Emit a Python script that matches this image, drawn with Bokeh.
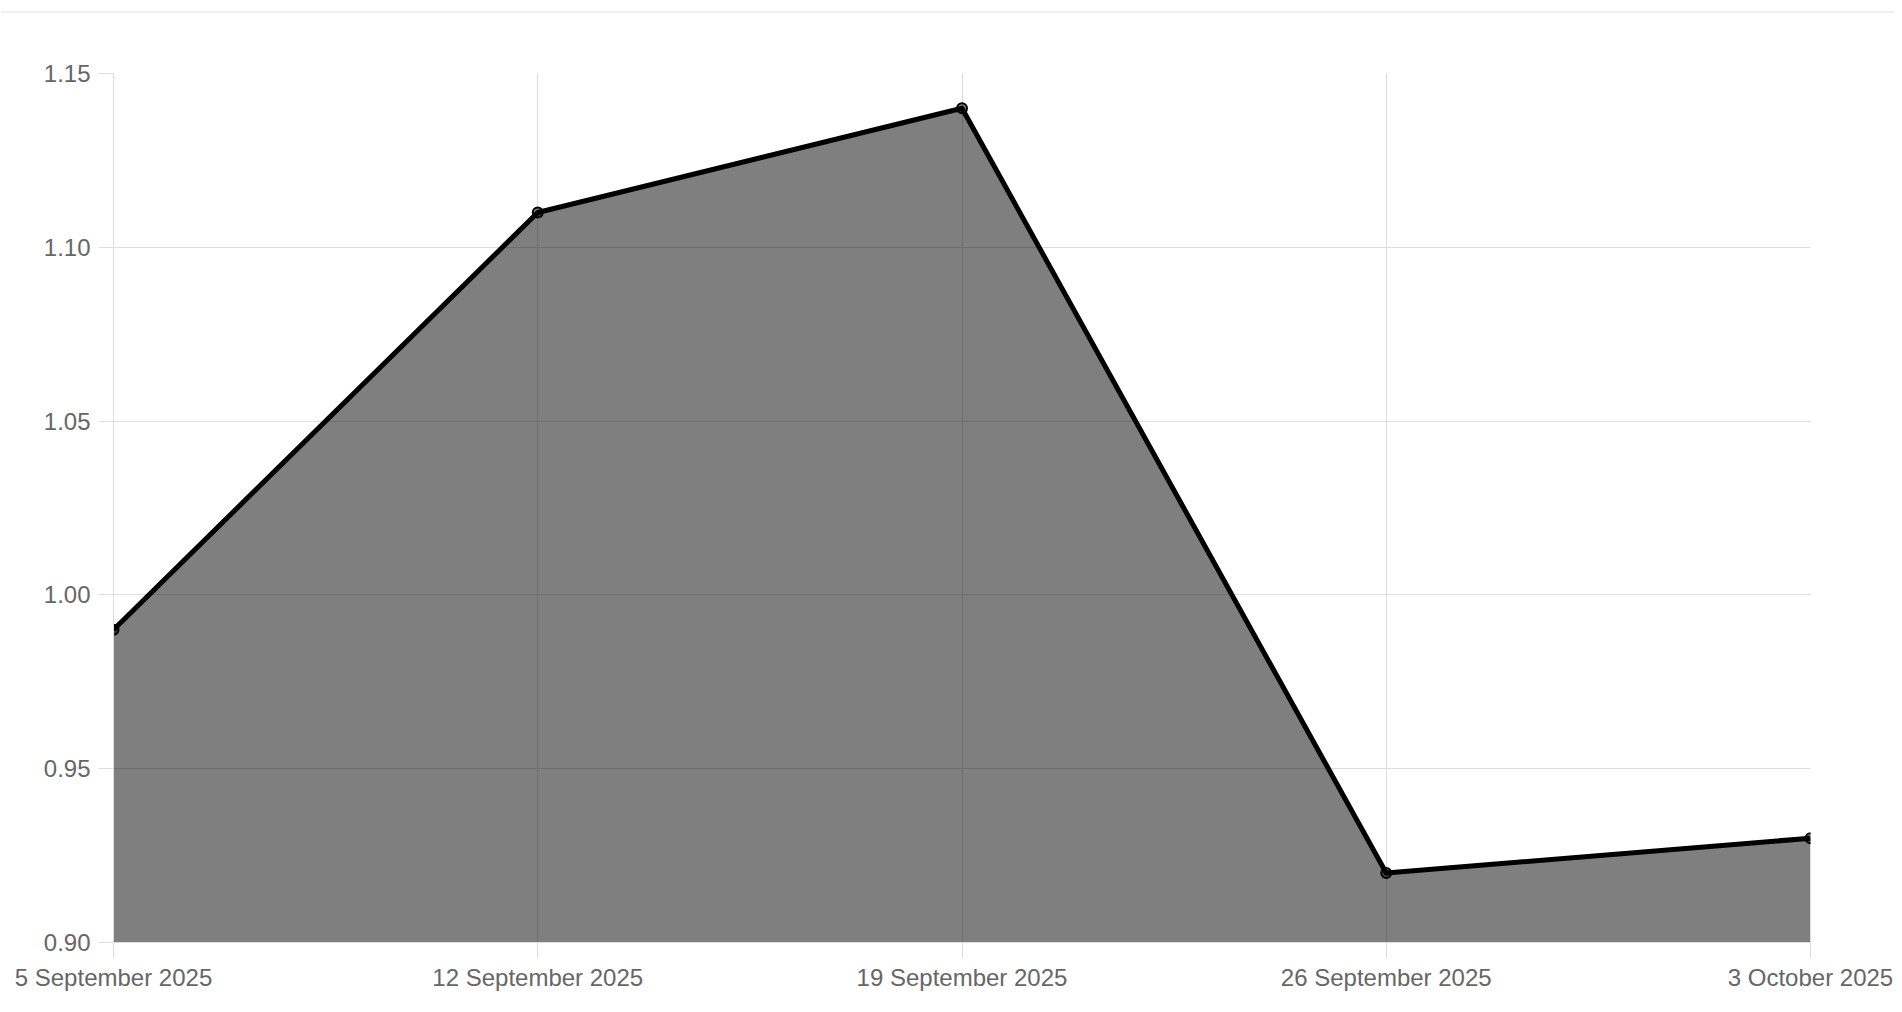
from bokeh.plotting import figure
from bokeh.models import Range1d, FixedTicker, NumeralTickFormatter, ColumnDataSource, Div
from bokeh.layouts import column
from bokeh.embed import file_html
from bokeh.resources import INLINE

# Data
dates = ["5 September 2025", "12 September 2025", "19 September 2025",
         "26 September 2025", "3 October 2025"]
values = [0.99, 1.11, 1.14, 0.92, 0.93]
y_ticks = [0.90, 0.95, 1.00, 1.05, 1.10, 1.15]
y_min, y_max = 0.90, 1.15

x = list(range(len(dates)))
src = ColumnDataSource(dict(x=x, y=values, base=[y_min] * len(x)))

FONT = "Liberation Sans"
GRID = "#dddddd"
LABEL = "#666666"

p = figure(width=1886, height=984, output_backend="svg", toolbar_location=None,
           x_range=Range1d(0, len(dates) - 1), y_range=Range1d(y_min, y_max),
           min_border_left=106, min_border_right=83, min_border_top=60,
           min_border_bottom=55)
p.margin = (0, 0, 0, 7)
p.outline_line_color = None
p.background_fill_color = "white"
p.border_fill_color = "white"

p.varea(x="x", y1="base", y2="y", source=src, fill_color="black", fill_alpha=0.5)
p.line(x="x", y="y", source=src, line_color="black", line_width=5, line_join="round")
p.scatter(x="x", y="y", source=src, size=10, fill_color="black", fill_alpha=0.5,
          line_color="black", line_width=2)

# axes
p.xaxis.ticker = FixedTicker(ticks=x)
p.xaxis.major_label_overrides = {i: d for i, d in zip(x, dates)}
p.yaxis.ticker = FixedTicker(ticks=y_ticks)
p.yaxis.formatter = NumeralTickFormatter(format="0.00")
for ax in (p.xaxis, p.yaxis):
    ax.major_label_text_font = FONT
    ax.major_label_text_font_size = "24px"
    ax.major_label_text_color = LABEL
    ax.major_tick_in = 0
    ax.major_tick_out = 15
    ax.major_tick_line_color = GRID
    ax.minor_tick_line_color = None
    ax.axis_line_color = GRID
p.yaxis.major_label_standoff = 8
p.xaxis.major_label_standoff = 6

p.xgrid.ticker = FixedTicker(ticks=x)
p.ygrid.ticker = FixedTicker(ticks=y_ticks)
p.grid.grid_line_color = GRID
p.grid.grid_line_width = 1

top_line = Div(text="", width=1893, height=5,
               styles={"border-bottom": "2px solid #f0f0f0"})
top_line.margin = (8, 0, 0, 1)

layout = column(top_line, p, spacing=0)
open("out.html", "w").write(file_html(layout, INLINE))
